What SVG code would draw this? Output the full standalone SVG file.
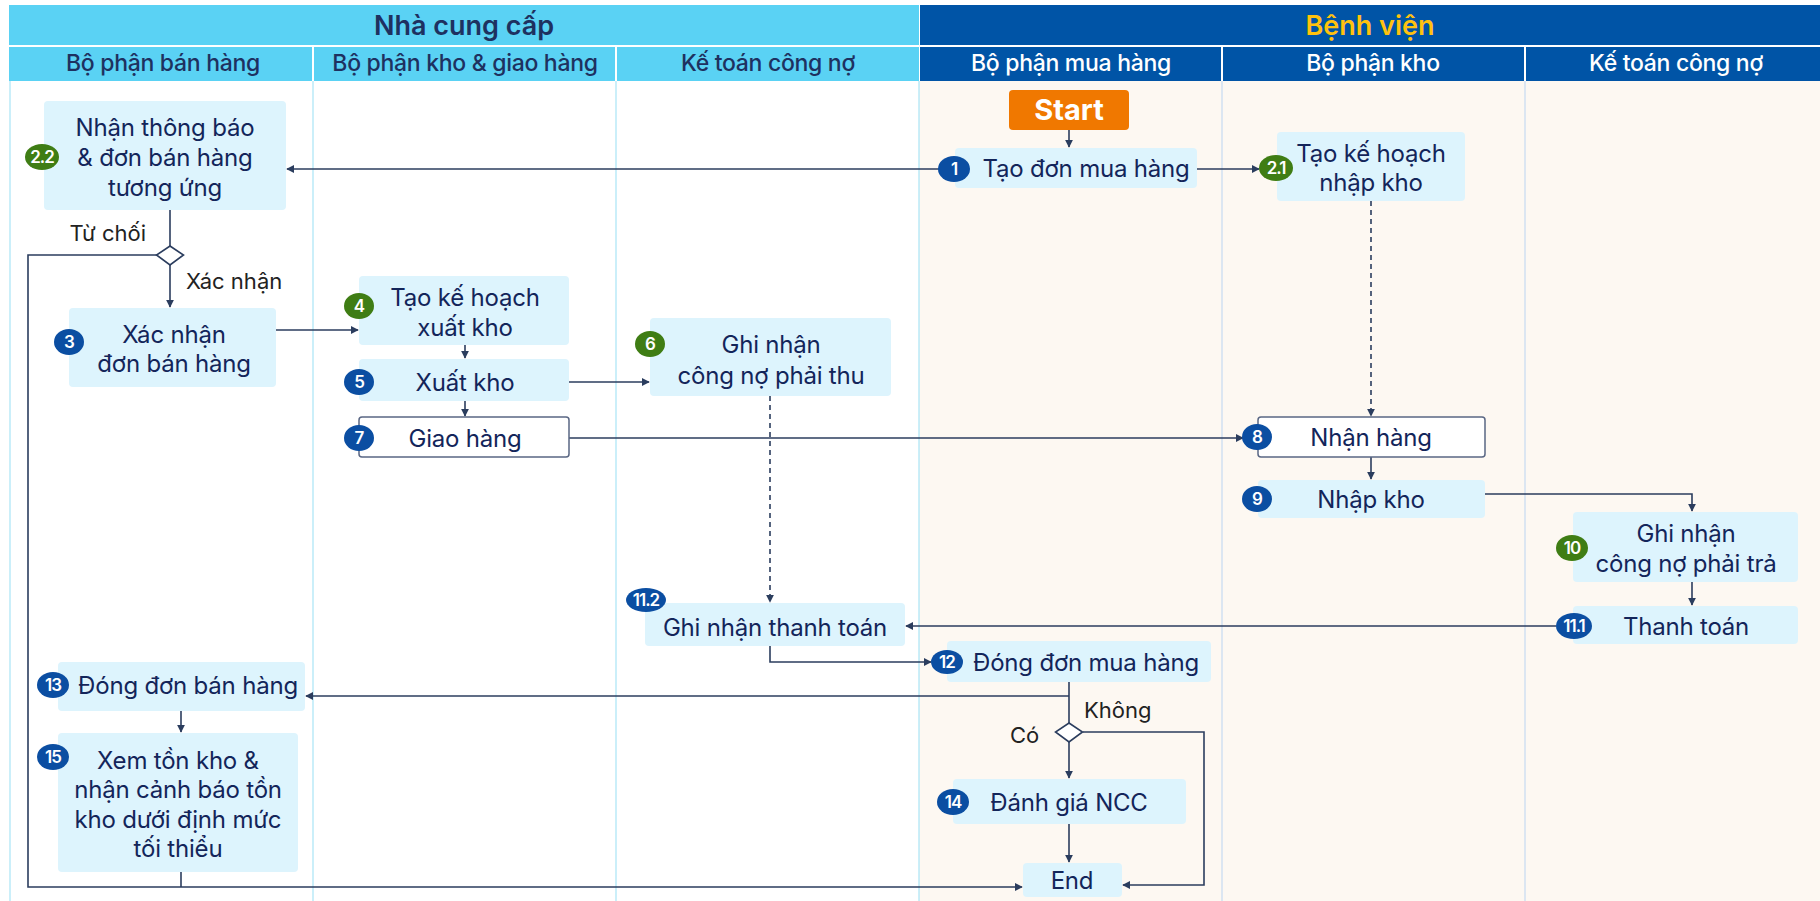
<svg xmlns="http://www.w3.org/2000/svg" width="1820" height="901" viewBox="0 0 1820 901">
<defs>
<marker id="ah" viewBox="0 0 10 10" refX="9" refY="5" markerWidth="8" markerHeight="8" markerUnits="userSpaceOnUse" orient="auto">
<path d="M0,0 L10,5 L0,10 z" fill="#2B3D5E"/>
</marker>
<style>
.hdr1{font-family:Inter,"Noto Sans",sans-serif;font-size:27px;font-weight:600;text-anchor:middle}
.hdr2{font-family:Inter,"Noto Sans",sans-serif;font-size:23px;font-weight:500;text-anchor:middle;letter-spacing:-0.3px}
.box{fill:#DDF4FD;rx:4}
.wbox{fill:#FFFFFF;stroke:#5A6784;stroke-width:1.5;rx:3}
.t{font-family:Inter,"Noto Sans",sans-serif;font-size:24px;fill:#13255A;text-anchor:middle;letter-spacing:-0.2px}
.lbl{font-family:Inter,"Noto Sans",sans-serif;font-size:22px;fill:#222222}
.bb{fill:#0B4EA2}
.bg{fill:#3F7D14}
.bt{font-family:Inter,"Noto Sans",sans-serif;font-size:17px;font-weight:600;fill:#FFFFFF;text-anchor:middle;letter-spacing:-1px}
.c{fill:none;stroke:#2B3D5E;stroke-width:1.6}
.ca{fill:none;stroke:#2B3D5E;stroke-width:1.6;marker-end:url(#ah)}
.cd{fill:none;stroke:#2B3D5E;stroke-width:1.6;stroke-dasharray:5,4;marker-end:url(#ah)}
.dia{fill:#FFFFFF;stroke:#2B3D5E;stroke-width:1.6}
</style>
</defs>
<rect x="0" y="0" width="1820" height="901" fill="#FFFFFF"/>
<g id="lanes">
<rect x="919" y="81" width="901" height="820" fill="#FDF8F2"/>
<line x1="10" y1="81" x2="10" y2="901" stroke="#A8E4F6" stroke-width="1.2"/>
<line x1="313" y1="81" x2="313" y2="901" stroke="#A8E4F6" stroke-width="1.2"/>
<line x1="616" y1="81" x2="616" y2="901" stroke="#A8E4F6" stroke-width="1.2"/>
<line x1="919" y1="81" x2="919" y2="901" stroke="#A8E4F6" stroke-width="1.2"/>
<line x1="1222" y1="81" x2="1222" y2="901" stroke="#C6DBF1" stroke-width="1.2"/>
<line x1="1525" y1="81" x2="1525" y2="901" stroke="#C6DBF1" stroke-width="1.2"/>
</g>
<g id="header">
<rect x="9" y="5" width="910" height="40" fill="#5AD2F4"/>
<rect x="920" y="5" width="900" height="40" fill="#0054A6"/>
<text class="hdr1" x="464" y="35" fill="#1E3160">Nhà cung cấp</text>
<text class="hdr1" x="1370" y="35" fill="#FFC20E">Bệnh viện</text>
<rect x="9" y="47" width="303" height="34" fill="#5AD2F4"/>
<rect x="314" y="47" width="301" height="34" fill="#5AD2F4"/>
<rect x="617" y="47" width="302" height="34" fill="#5AD2F4"/>
<rect x="920" y="47" width="301" height="34" fill="#0054A6"/>
<rect x="1223" y="47" width="301" height="34" fill="#0054A6"/>
<rect x="1526" y="47" width="294" height="34" fill="#0054A6"/>
<text class="hdr2" x="163" y="71" fill="#1E3160">Bộ phận bán hàng</text>
<text class="hdr2" x="465" y="71" fill="#1E3160">Bộ phận kho &amp; giao hàng</text>
<text class="hdr2" x="768" y="71" fill="#1E3160">Kế toán công nợ</text>
<text class="hdr2" x="1071" y="71" fill="#FFFFFF">Bộ phận mua hàng</text>
<text class="hdr2" x="1373" y="71" fill="#FFFFFF">Bộ phận kho</text>
<text class="hdr2" x="1676" y="71" fill="#FFFFFF">Kế toán công nợ</text>
</g>
<g id="connectors">
<path class="ca" d="M1069,130 L1069,147"/>
<path class="ca" d="M940,169 L287,169"/>
<path class="ca" d="M1197,169 L1259,169"/>
<path class="cd" d="M1371,201 L1371,416"/>
<path class="c" d="M170,210 L170,246"/>
<path class="ca" d="M170,265 L170,307"/>
<path class="ca" d="M157,255 L28,255 L28,887 L1022,887"/>
<path class="ca" d="M276,330 L358,330"/>
<path class="ca" d="M465,345 L465,358"/>
<path class="ca" d="M569,382 L649,382"/>
<path class="ca" d="M465,401 L465,416"/>
<path class="ca" d="M569,438 L1243,438"/>
<path class="cd" d="M770,396 L770,602"/>
<path class="ca" d="M1371,457 L1371,479"/>
<path class="ca" d="M1485,494 L1692,494 L1692,511"/>
<path class="ca" d="M1692,582 L1692,605"/>
<path class="ca" d="M1556,626 L906,626"/>
<path class="ca" d="M770,646 L770,662 L931,662"/>
<path class="c" d="M1069,682 L1069,723"/>
<path class="ca" d="M1069,696 L306,696"/>
<path class="ca" d="M181,711 L181,732"/>
<path class="c" d="M181,872 L181,887"/>
<path class="ca" d="M1069,742 L1069,778"/>
<path class="ca" d="M1083,732 L1204,732 L1204,885 L1123,885"/>
<path class="ca" d="M1069,824 L1069,862"/>
<text class="lbl" x="146" y="241" text-anchor="end">Từ chối</text>
<text class="lbl" x="186" y="289">Xác nhận</text>
<text class="lbl" x="1084" y="718">Không</text>
<text class="lbl" x="1010" y="743">Có</text>
</g>
<g id="decision1"><path class="dia" d="M170,246 L183.5,255 L170,265 L156.5,255 z"/></g>
<g id="decision2"><path class="dia" d="M1069,723 L1082.5,732 L1069,742 L1055.5,732 z"/></g>
<g id="start">
<rect x="1009" y="90" width="120" height="40" rx="4" fill="#F07800"/>
<text x="1069" y="120" font-family="Inter,'Noto Sans',sans-serif" font-size="29" font-weight="700" fill="#FFFFFF" text-anchor="middle">Start</text>
</g>
<g id="n1">
<rect class="box" x="955" y="148" width="242" height="40"/>
<text class="t" x="1086" y="177">Tạo đơn mua hàng</text>
<ellipse class="bb" cx="954" cy="169" rx="16" ry="13"/><text class="bt" x="954" y="175">1</text>
</g>
<g id="n2_1">
<rect class="box" x="1277" y="132" width="188" height="69"/>
<text class="t" x="1371" y="162">Tạo kế hoạch</text>
<text class="t" x="1371" y="191">nhập kho</text>
<ellipse class="bg" cx="1276" cy="168" rx="17" ry="13"/><text class="bt" x="1276" y="174">2.1</text>
</g>
<g id="n2_2">
<rect class="box" x="44" y="101" width="242" height="109"/>
<text class="t" x="165" y="136">Nhận thông báo</text>
<text class="t" x="165" y="166">&amp; đơn bán hàng</text>
<text class="t" x="165" y="196">tương ứng</text>
<ellipse class="bg" cx="42" cy="157" rx="17" ry="13"/><text class="bt" x="42" y="163">2.2</text>
</g>
<g id="n3">
<rect class="box" x="69" y="308" width="207" height="79"/>
<text class="t" x="174" y="343">Xác nhận</text>
<text class="t" x="174" y="372">đơn bán hàng</text>
<ellipse class="bb" cx="69" cy="342" rx="15" ry="13"/><text class="bt" x="69" y="348">3</text>
</g>
<g id="n4">
<rect class="box" x="359" y="276" width="210" height="69"/>
<text class="t" x="465" y="306">Tạo kế hoạch</text>
<text class="t" x="465" y="336">xuất kho</text>
<ellipse class="bg" cx="359" cy="306" rx="15" ry="13"/><text class="bt" x="359" y="312">4</text>
</g>
<g id="n5">
<rect class="box" x="359" y="359" width="210" height="42"/>
<text class="t" x="465" y="391">Xuất kho</text>
<ellipse class="bb" cx="359" cy="382" rx="15" ry="13"/><text class="bt" x="359" y="388">5</text>
</g>
<g id="n6">
<rect class="box" x="650" y="318" width="241" height="78"/>
<text class="t" x="771" y="353">Ghi nhận</text>
<text class="t" x="771" y="384">công nợ phải thu</text>
<ellipse class="bg" cx="650" cy="344" rx="15" ry="13"/><text class="bt" x="650" y="350">6</text>
</g>
<g id="n7">
<rect class="wbox" x="359" y="417" width="210" height="40"/>
<text class="t" x="465" y="447">Giao hàng</text>
<ellipse class="bb" cx="359" cy="438" rx="15" ry="13"/><text class="bt" x="359" y="444">7</text>
</g>
<g id="n8">
<rect class="wbox" x="1258" y="417" width="227" height="40"/>
<text class="t" x="1371" y="446">Nhận hàng</text>
<ellipse class="bb" cx="1257" cy="437" rx="15" ry="13"/><text class="bt" x="1257" y="443">8</text>
</g>
<g id="n9">
<rect class="box" x="1258" y="480" width="227" height="38"/>
<text class="t" x="1371" y="508">Nhập kho</text>
<ellipse class="bb" cx="1257" cy="499" rx="15" ry="13"/><text class="bt" x="1257" y="505">9</text>
</g>
<g id="n10">
<rect class="box" x="1573" y="512" width="225" height="70"/>
<text class="t" x="1686" y="542">Ghi nhận</text>
<text class="t" x="1686" y="572">công nợ phải trả</text>
<ellipse class="bg" cx="1572" cy="548" rx="16" ry="13"/><text class="bt" x="1572" y="554">10</text>
</g>
<g id="n11_1">
<rect class="box" x="1573" y="606" width="225" height="38"/>
<text class="t" x="1686" y="635">Thanh toán</text>
<ellipse class="bb" cx="1574" cy="626" rx="18" ry="13"/><text class="bt" x="1574" y="632">11.1</text>
</g>
<g id="n11_2">
<rect class="box" x="645" y="603" width="260" height="43"/>
<text class="t" x="775" y="636">Ghi nhận thanh toán</text>
<ellipse class="bb" cx="646" cy="600" rx="20" ry="12"/><text class="bt" x="646" y="606">11.2</text>
</g>
<g id="n12">
<rect class="box" x="947" y="641" width="264" height="41"/>
<text class="t" x="1086" y="671">Đóng đơn mua hàng</text>
<ellipse class="bb" cx="947" cy="662" rx="16" ry="12"/><text class="bt" x="947" y="668">12</text>
</g>
<g id="n13">
<rect class="box" x="58" y="662" width="247" height="49"/>
<text class="t" x="188" y="694">Đóng đơn bán hàng</text>
<ellipse class="bb" cx="53" cy="685" rx="16" ry="13"/><text class="bt" x="53" y="691">13</text>
</g>
<g id="n14">
<rect class="box" x="953" y="779" width="233" height="45"/>
<text class="t" x="1069" y="811">Đánh giá NCC</text>
<ellipse class="bb" cx="953" cy="802" rx="16" ry="13"/><text class="bt" x="953" y="808">14</text>
</g>
<g id="n15">
<rect class="box" x="58" y="733" width="240" height="139"/>
<text class="t" x="178" y="769">Xem tồn kho &amp;</text>
<text class="t" x="178" y="798">nhận cảnh báo tồn</text>
<text class="t" x="178" y="828">kho dưới định mức</text>
<text class="t" x="178" y="857">tối thiểu</text>
<ellipse class="bb" cx="53" cy="757" rx="16" ry="13"/><text class="bt" x="53" y="763">15</text>
</g>
<g id="end">
<rect class="box" x="1023" y="863" width="99" height="34"/>
<text class="t" x="1072" y="889">End</text>
</g>
</svg>
